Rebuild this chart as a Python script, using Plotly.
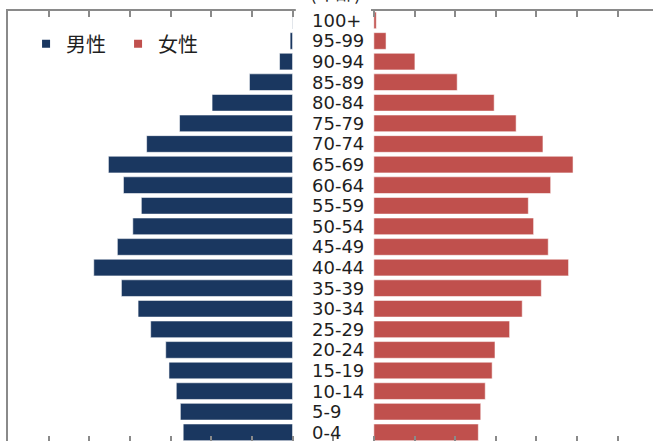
import plotly.graph_objects as go

# ---- data (values in arbitrary population units; 1 axis tick = 10 units) ----
age_groups = ["0-4", "5-9", "10-14", "15-19", "20-24", "25-29", "30-34",
              "35-39", "40-44", "45-49", "50-54", "55-59", "60-64", "65-69",
              "70-74", "75-79", "80-84", "85-89", "90-94", "95-99", "100+"]
male = [26.9, 27.6, 28.6, 30.4, 31.2, 34.9, 38.0, 42.1, 48.9, 43.1, 39.3,
        37.2, 41.6, 45.3, 35.9, 27.8, 19.8, 10.6, 3.2, 0.6, 0.1]
female = [25.7, 26.3, 27.4, 29.1, 29.8, 33.4, 36.5, 41.2, 47.9, 42.9, 39.3,
          38.0, 43.5, 49.0, 41.6, 35.0, 29.6, 20.5, 10.1, 3.0, 0.6]
series_names = ["男性", "女性"]
tick_values = list(range(-80, 81, 10))
age_axis_title = "(年齢)"

# ---- styles ----
MALE_COLOR = "#1A3760"
FEMALE_COLOR = "#C0504D"
FRAME_COLOR = "#8A8A8A"
CENTER_GAP = 10          # half width of the central label band (axis units)
X_RANGE = [-80, 78.67]
Y_RANGE = [-0.422, 20.456]
CJK_FONT = "Noto Sans CJK JP"
LABEL_FONT = "DejaVu Sans"

fig = go.Figure()

fig.add_trace(go.Bar(
    y=age_groups, x=[-v for v in male], base=-CENTER_GAP, orientation="h",
    name=series_names[0], marker=dict(color=MALE_COLOR,
                                      line=dict(color="rgba(255,255,255,0.55)", width=1)),
    showlegend=False, hoverinfo="skip"))
fig.add_trace(go.Bar(
    y=age_groups, x=female, base=CENTER_GAP, orientation="h",
    name=series_names[1], marker=dict(color=FEMALE_COLOR,
                                      line=dict(color="rgba(255,255,255,0.55)", width=1)),
    showlegend=False, hoverinfo="skip"))

# legend entries with small square symbols
for name, col in zip(series_names, [MALE_COLOR, FEMALE_COLOR]):
    fig.add_trace(go.Scatter(
        x=[None], y=[None], mode="markers", name=name, xaxis="x2",
        marker=dict(symbol="square", size=8, color=col), showlegend=True))

# central age labels
for g in age_groups:
    fig.add_annotation(x=-5.7, y=g, xref="x", yref="y", text=g,
                       showarrow=False, xanchor="left", yanchor="middle",
                       font=dict(family=LABEL_FONT, size=18, color="#1f1f1f"))

# axis title, mostly cut off at the top of the picture
fig.add_annotation(x=0.6, y=1, xref="x", yref="paper", text=age_axis_title,
                   showarrow=False, xanchor="center", yanchor="bottom", yshift=4,
                   font=dict(family=CJK_FONT, size=19, color="#1f1f1f"))

# white band hiding the top frame line behind the label column
fig.add_shape(type="rect", xref="x", yref="paper", x0=-9.2, x1=9.3,
              y0=0.994, y1=1.012, fillcolor="white", line=dict(width=0),
              layer="above")

fig.update_layout(
    width=653, height=441,
    margin=dict(l=8, r=0, t=11, b=0, pad=0),
    paper_bgcolor="white", plot_bgcolor="white",
    barmode="overlay", bargap=0.19,
    showlegend=True,
    legend=dict(orientation="h", x=0.028, y=0.969, xanchor="left", yanchor="top",
                font=dict(family=CJK_FONT, size=20, color="#1f1f1f"),
                bgcolor="rgba(0,0,0,0)", entrywidth=47, entrywidthmode="pixels",
                itemclick=False, itemdoubleclick=False),
    xaxis=dict(range=X_RANGE, tickvals=tick_values, ticks="inside", ticklen=5.5,
               tickwidth=1.5, tickcolor=FRAME_COLOR, showticklabels=False,
               showline=False, zeroline=False, showgrid=False, fixedrange=True),
    xaxis2=dict(range=X_RANGE, overlaying="x", side="top", anchor="y",
                tickvals=[t for t in tick_values if t != 0], ticks="inside",
                ticklen=5.5, tickwidth=1.5, tickcolor=FRAME_COLOR,
                showticklabels=False, showline=True, linecolor=FRAME_COLOR,
                linewidth=2, zeroline=False, showgrid=False, fixedrange=True),
    yaxis=dict(type="category", categoryorder="array", categoryarray=age_groups,
               range=Y_RANGE, showticklabels=False, ticks="", showline=True,
               linecolor=FRAME_COLOR, linewidth=2, showgrid=False,
               zeroline=False, fixedrange=True),
)

fig.write_html("out.html")
